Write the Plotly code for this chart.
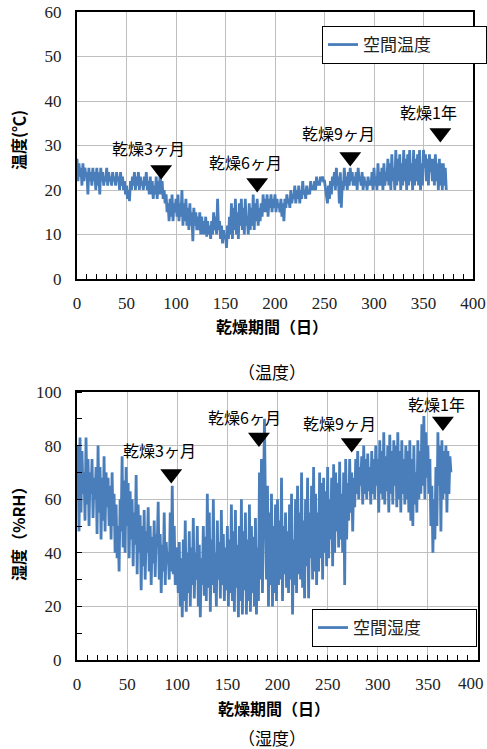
import plotly.graph_objects as go

# ---------------- data (one value per day) ----------------
temp_values = [
    27, 22, 26, 23, 25, 21, 26, 22, 25, 23,
    24, 19, 25, 22, 24, 21, 25, 22, 24, 20,
    25, 21, 24, 19, 25, 22, 24, 21, 23, 22,
    25, 21, 24, 22, 23, 21, 24, 22, 23, 21,
    24, 22, 23, 20, 24, 21, 23, 20, 22, 19,
    21, 18, 20, 17.5, 22, 20, 23, 21, 24, 20,
    23, 21, 24, 20, 23, 21, 22, 20, 23, 21,
    24, 20, 22, 19, 23, 19, 22, 18, 21, 19,
    23, 18, 22, 19, 24, 19, 22, 18, 20, 17,
    19, 15, 17, 13, 18, 14, 19, 13, 17, 15,
    18, 14, 19, 13, 17, 14, 20, 12, 17, 13,
    18, 12, 16, 11, 17, 12, 15, 8.5, 16, 12,
    15, 11, 14, 11, 15, 10, 14, 10, 13, 10,
    14, 9.5, 13, 10, 12, 9, 13, 10, 15, 11,
    14, 10, 18, 11, 13, 9, 12, 8, 11, 9,
    10, 7, 12, 9, 14, 10, 17, 9, 16, 11,
    18, 10, 15, 9, 17, 12, 18, 11, 16, 10,
    18, 12, 14, 10, 17, 11, 16, 12, 19, 11,
    17, 13, 18, 12, 16, 13, 17, 14, 19, 15,
    18, 15, 19, 14, 18, 16, 19, 15, 18, 16,
    19, 15, 18, 16, 17, 15, 18, 14, 17, 13,
    18, 16, 19, 17, 18, 16, 20, 17, 19, 18,
    21, 17, 20, 18, 21, 17, 20, 18, 22, 19,
    20, 18, 21, 19, 20, 19, 22, 20, 21, 20,
    22, 20, 23, 21, 22, 21, 23, 22, 23, 22,
    22, 20, 19, 17, 21, 18, 22, 19, 23, 21,
    24, 20, 25, 21, 23, 17, 24, 16, 22, 20,
    25, 21, 23, 20, 24, 21, 25, 22, 24, 21,
    23, 21, 24, 20, 25, 22, 23, 21, 24, 20,
    23, 21, 22, 20, 23, 21, 22, 21, 24, 20,
    25, 21, 23, 20, 26, 21, 24, 21, 25, 20,
    26, 21, 24, 22, 27, 21, 26, 20, 28, 22,
    25, 20, 29, 21, 27, 22, 28, 20, 26, 21,
    29, 22, 27, 20, 28, 21, 29, 22, 26, 20,
    29, 21, 27, 22, 28, 21, 29, 20, 26, 21,
    29, 25, 28, 22, 27, 21, 28, 24, 27, 22,
    27, 21, 28, 22, 26, 20, 27, 21, 26, 20,
    26, 21, 25, 20,
]

hum_values = [
    60, 80, 48, 83, 55, 78, 62, 70, 52, 83,
    58, 75, 50, 70, 62, 75, 53, 68, 60, 72,
    47, 80, 55, 72, 45, 68, 52, 76, 48, 70,
    57, 68, 50, 65, 45, 70, 50, 62, 40, 58,
    38, 50, 33, 60, 48, 76, 42, 67, 40, 72,
    50, 66, 38, 63, 45, 60, 35, 55, 43, 69,
    32, 58, 40, 54, 26, 50, 35, 56, 30, 48,
    40, 57, 33, 50, 28, 46, 36, 52, 31, 47,
    42, 59, 30, 47, 25, 43, 33, 55, 28, 44,
    36, 40, 30, 55, 33, 65, 32, 50, 28, 42,
    35, 25, 44, 20, 38, 16, 45, 22, 52, 18,
    40, 25, 48, 20, 42, 28, 53, 23, 40, 30,
    50, 20, 43, 16, 38, 28, 50, 24, 46, 22,
    62, 27, 55, 18, 45, 28, 60, 25, 40, 20,
    52, 30, 44, 23, 56, 28, 47, 22, 42, 26,
    50, 20, 45, 25, 58, 22, 48, 18, 56, 27,
    43, 16, 50, 22, 60, 17, 48, 26, 55, 17,
    45, 22, 58, 18, 50, 25, 46, 20, 53, 17,
    42, 22, 70, 30, 75, 25, 60, 90, 55, 30,
    65, 20, 55, 28, 62, 20, 50, 25, 58, 22,
    60, 28, 52, 30, 68, 22, 50, 32, 55, 27,
    48, 25, 58, 30, 62, 17, 45, 28, 60, 25,
    65, 32, 55, 30, 70, 27, 52, 23, 60, 35,
    68, 23, 55, 38, 65, 30, 72, 33, 62, 28,
    55, 33, 70, 38, 66, 30, 68, 40, 63, 35,
    72, 38, 60, 45, 68, 35, 73, 40, 70, 48,
    66, 42, 74, 45, 62, 40, 70, 28, 75, 45,
    66, 52, 75, 55, 70, 48, 68, 57, 75, 62,
    78, 60, 72, 65, 76, 58, 80, 62, 75, 60,
    77, 63, 72, 58, 78, 62, 75, 60, 80, 65,
    75, 55, 82, 62, 78, 60, 85, 58, 76, 63,
    80, 55, 84, 62, 78, 58, 82, 65, 80, 57,
    85, 60, 78, 55, 82, 62, 75, 58, 80, 60,
    78, 55, 82, 52, 75, 50, 80, 58, 70, 55,
    82, 60, 78, 62, 88, 65, 91, 60, 85, 68,
    80, 62, 75, 50, 65, 40, 60, 45, 72, 50,
    85, 65, 80, 48, 82, 60, 78, 62, 80, 55,
    78, 62, 76, 70,
]

days = list(range(len(temp_values)))

marker_labels = ["乾燥3ヶ月", "乾燥6ヶ月", "乾燥9ヶ月", "乾燥1年"]
temp_marker_days = [85, 182, 276, 367]
temp_marker_vals = [24.5, 21.6, 27.4, 32.8]
hum_marker_days = [94, 181.5, 274, 365]
hum_marker_vals = [69.4, 83, 81, 89]

x_ticks = [0, 50, 100, 150, 200, 250, 300, 350, 400]
x_ticktext_bottom = ["0", "50", "100", "150", "200", "250", "300", "350", ""]
temp_ticks = [0, 10, 20, 30, 40, 50, 60]
hum_ticks = [0, 20, 40, 60, 80, 100]

# ---------------- figure ----------------
W, H = 487, 749
LINE = "#4a7ebb"
GRID = "#bfbfbf"
SERIF = "Liberation Serif, DejaVu Serif, serif"
JP = "Noto Sans CJK JP"
TICKCOLOR = "#222222"

def px(y):
    return 1 - y / H

fig = go.Figure()

fig.add_trace(go.Scatter(x=days, y=temp_values, mode="lines", name="空間温度",
                         line=dict(color=LINE, width=2.8), xaxis="x", yaxis="y",
                         legend="legend"))
fig.add_trace(go.Scatter(x=days, y=hum_values, mode="lines", name="空間湿度",
                         line=dict(color=LINE, width=2.8), xaxis="x2", yaxis="y2",
                         legend="legend2"))
fig.add_trace(go.Scatter(x=temp_marker_days, y=temp_marker_vals, mode="markers",
                         marker=dict(symbol="triangle-down", size=19, color="black"),
                         showlegend=False, xaxis="x", yaxis="y", hoverinfo="skip"))
fig.add_trace(go.Scatter(x=hum_marker_days, y=hum_marker_vals, mode="markers",
                         marker=dict(symbol="triangle-down", size=19, color="black"),
                         showlegend=False, xaxis="x2", yaxis="y2", hoverinfo="skip"))

# text offsets from the triangles (pixels: right, up)
temp_text_dx = [-13, -12, -12, -12]
temp_text_dy = [22, 21, 24, 21]
hum_text_dx = [-12, -14, -12, -6]
hum_text_dy = [24, 21, 20, 17]

annotations = []
for lab, d, v, dx, dy in zip(marker_labels, temp_marker_days, temp_marker_vals, temp_text_dx, temp_text_dy):
    annotations.append(dict(x=d, y=v, xref="x", yref="y", text=lab, showarrow=False,
                            xanchor="center", yanchor="middle",
                            xshift=dx, yshift=dy, font=dict(family=JP, size=16, color="black")))
for lab, d, v, dx, dy in zip(marker_labels, hum_marker_days, hum_marker_vals, hum_text_dx, hum_text_dy):
    annotations.append(dict(x=d, y=v, xref="x2", yref="y2", text=lab, showarrow=False,
                            xanchor="center", yanchor="middle",
                            xshift=dx, yshift=dy, font=dict(family=JP, size=16, color="black")))

def label(x, y, text, size=16, angle=0, family=JP):
    return dict(x=x / W, y=px(y), xref="paper", yref="paper", text=text, textangle=angle,
                xanchor="center", yanchor="middle", showarrow=False,
                font=dict(family=family, size=size, color="black"))

# axis titles & captions
annotations += [
    label(18, 140, "<b>温度(℃)</b>", angle=-90),
    label(272, 326, "<b>乾燥期間（日）</b>"),
    label(272, 372, "（温度）", size=17),
    label(18, 530, "<b>湿度（%RH）</b>", angle=-90),
    label(274, 708, "<b>乾燥期間（日）</b>"),
    label(272, 737, "（湿度）", size=17),
]
# last tick label of the lower x axis, kept inside the page like the reference
annotations.append(dict(x=x_ticks[-1], y=px(683), xref="x2", yref="paper", text=str(x_ticks[-1]),
                        xanchor="right", yanchor="middle", xshift=8, showarrow=False,
                        font=dict(family=SERIF, size=17, color=TICKCOLOR)))

tickfont = dict(family=SERIF, size=17, color=TICKCOLOR)

def xaxis(domain, anchor, ticktext):
    return dict(domain=domain, anchor=anchor, range=[0, 400], tickvals=x_ticks, ticktext=ticktext,
                showgrid=True, gridcolor=GRID, gridwidth=1.3,
                showline=True, linecolor="black", linewidth=2, mirror=True,
                ticks="inside", ticklen=5, tickcolor="black",
                minor=dict(dtick=10, ticks="inside", ticklen=5, tickcolor="black", showgrid=False),
                tickfont=tickfont, ticklabelstandoff=8, zeroline=False, fixedrange=True,
                automargin=False)

def yaxis(domain, anchor, rng, ticks, minor):
    d = dict(domain=domain, anchor=anchor, range=rng, tickvals=ticks,
             showgrid=True, gridcolor=GRID, gridwidth=1.3,
             showline=True, linecolor="black", linewidth=2, mirror=True,
             ticks="", tickfont=tickfont, ticklabelstandoff=10, zeroline=False, fixedrange=True,
             automargin=False)
    if minor:
        d["minor"] = dict(dtick=10, ticks="inside", ticklen=5, tickcolor="black", showgrid=False)
    return d

legend_common = dict(xanchor="left", yanchor="top", bgcolor="white", bordercolor="black",
                     borderwidth=1, orientation="h", itemwidth=30,
                     entrywidth=118, entrywidthmode="pixels",
                     font=dict(family=JP, size=17, color="#222222"))

fig.update_layout(
    width=W, height=H,
    margin=dict(l=0, r=0, t=0, b=0, autoexpand=False),
    paper_bgcolor="white", plot_bgcolor="white",
    xaxis=xaxis([77 / W, 473 / W], "y", [str(v) for v in x_ticks]),
    yaxis=yaxis([px(279), px(12)], "x", [0, 60], temp_ticks, False),
    xaxis2=xaxis([77 / W, 478 / W], "y2", x_ticktext_bottom),
    yaxis2=yaxis([px(660), px(392)], "x2", [0, 100], hum_ticks, True),
    legend=dict(x=322 / W, y=px(26), **legend_common),
    legend2=dict(x=312 / W, y=px(609), **legend_common),
    annotations=annotations,
    showlegend=True,
)

fig.write_html("out.html")
